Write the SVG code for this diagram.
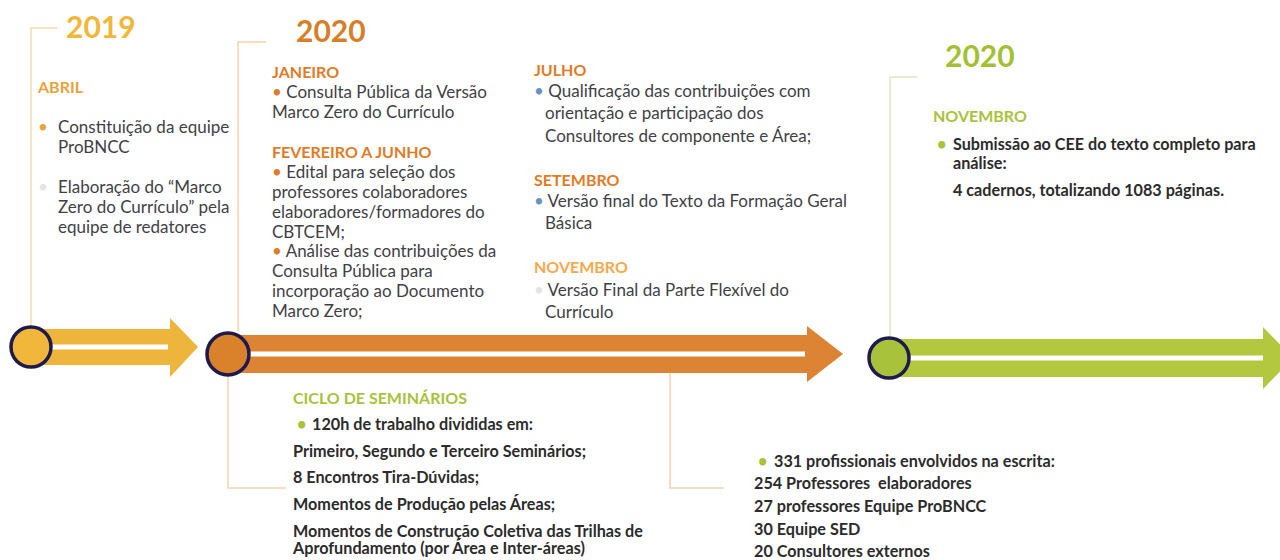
<svg xmlns="http://www.w3.org/2000/svg" width="1280" height="560" viewBox="0 0 1280 560">
<style>
text{font-family:Lato,"Open Sans","Liberation Sans",sans-serif}
.yr{font-size:30px;font-weight:700}
.mo{font-size:16px;font-weight:700}
.tx{font-size:17px;fill:#3f3f46}
.bd{font-size:16.2px;font-weight:700;fill:#2b2b2b}
.b-or{fill:#e8a33a}
.b-br{fill:#e07b28}
.b-bl{fill:#6a93c0}
.b-lt{fill:#e4e4e4}
.b-gr{fill:#a9c23b}
.ln{fill:none;stroke-width:1.5}
.node{stroke:#1e1a4d;stroke-width:3.5}
.wl{stroke:#ffffff;stroke-width:5}
</style>
<rect width="1280" height="560" fill="#ffffff"/>
<g id="connectors">
<path class="ln" stroke="#f5dcae" d="M58,28 H31 V326"/>
<path class="ln" stroke="#f2d4ae" d="M266,42 H238 V331"/>
<path class="ln" stroke="#f2d4ae" d="M228,376 V488 H286"/>
<path class="ln" stroke="#f2d4ae" d="M670,373 V488 H724"/>
<path class="ln" stroke="#dfe7c2" d="M917,77 H890 V336"/>
</g>
<g id="arrow-2019">
<path fill="#eeb53c" d="M31,329 H170 V318 L198,347 L170,377 V365 H31 Z"/>
<line class="wl" x1="31" y1="347" x2="168" y2="347"/>
</g>
<g id="arrow-2020a">
<path fill="#dc8433" d="M227,335 H807 V326 L843,354 L807,382 V373 H227 Z"/>
<line class="wl" x1="227" y1="354" x2="805" y2="354"/>
</g>
<g id="arrow-2020b">
<path fill="#b3c83e" d="M889,339 H1263 V327 L1293,358 L1263,389 V377 H889 Z"/>
<line class="wl" x1="889" y1="358" x2="1263" y2="358"/>
</g>
<g id="node-2019">
<circle class="node" cx="31" cy="347" r="20" fill="#f0b73a"/>
</g>
<g id="node-2020a">
<circle class="node" cx="228" cy="354" r="21" fill="#d9822b"/>
</g>
<g id="node-2020b">
<circle class="node" cx="889" cy="358" r="20" fill="#a9c23b"/>
</g>
<g id="block-2019">
<text class="yr" x="66" y="38" fill="#f0b73a">2019</text>
<text class="mo" x="38" y="93" fill="#e9a23b">ABRIL</text>
<text class="tx b-or" x="38" y="133">•</text>
<text class="tx" x="58" y="133">Constituição da equipe</text>
<text class="tx" x="58" y="153">ProBNCC</text>
<text class="tx b-lt" x="38" y="193">•</text>
<text class="tx" x="58" y="193">Elaboração do “Marco</text>
<text class="tx" x="58" y="213">Zero do Currículo” pela</text>
<text class="tx" x="58" y="233">equipe de redatores</text>
</g>
<g id="block-2020a">
<text class="yr" x="296" y="42" fill="#d47f2a">2020</text>
<text class="mo" x="272" y="78" fill="#e07b28">JANEIRO</text>
<text class="tx" x="272" y="98"><tspan class="b-br">•</tspan> Consulta Pública da Versão</text>
<text class="tx" x="272" y="118">Marco Zero do Currículo</text>
<text class="mo" x="272" y="158" fill="#e07b28">FEVEREIRO A JUNHO</text>
<text class="tx" x="272" y="178"><tspan class="b-br">•</tspan> Edital para seleção dos</text>
<text class="tx" x="272" y="198">professores colaboradores</text>
<text class="tx" x="272" y="218">elaboradores/formadores do</text>
<text class="tx" x="272" y="238">CBTCEM;</text>
<text class="tx" x="272" y="257"><tspan class="b-br">•</tspan> Análise das contribuições da</text>
<text class="tx" x="272" y="277">Consulta Pública para</text>
<text class="tx" x="272" y="297">incorporação ao Documento</text>
<text class="tx" x="272" y="317">Marco Zero;</text>
</g>
<g id="block-2020-jul">
<text class="mo" x="534" y="76" fill="#e07b28">JULHO</text>
<text class="tx" x="534" y="97"><tspan class="b-bl">•</tspan> Qualificação das contribuições com</text>
<text class="tx" x="545" y="119">orientação e participação dos</text>
<text class="tx" x="545" y="142">Consultores de componente e Área;</text>
<text class="mo" x="534" y="186" fill="#e07b28">SETEMBRO</text>
<text class="tx" x="534" y="207"><tspan class="b-bl">•</tspan> Versão final do Texto da Formação Geral</text>
<text class="tx" x="545" y="229">Básica</text>
<text class="mo" x="534" y="273" fill="#f3a94e">NOVEMBRO</text>
<text class="tx" x="534" y="296"><tspan class="b-lt">•</tspan> Versão Final da Parte Flexível do</text>
<text class="tx" x="545" y="318">Currículo</text>
</g>
<g id="block-2020b">
<text class="yr" x="945" y="67" fill="#a3bf35">2020</text>
<text class="mo" x="933" y="122" fill="#a9c23b">NOVEMBRO</text>
<text class="bd b-gr" x="937" y="150">•</text>
<text class="bd" x="953" y="150">Submissão ao CEE do texto completo para</text>
<text class="bd" x="953" y="169">análise:</text>
<text class="bd" x="953" y="196">4 cadernos, totalizando 1083 páginas.</text>
</g>
<g id="block-seminarios">
<text class="mo" x="293" y="404" fill="#a9c23b">CICLO DE SEMINÁRIOS</text>
<text class="bd b-gr" x="297" y="430">•</text>
<text class="bd" x="312" y="430">120h de trabalho divididas em:</text>
<text class="bd" x="293" y="457">Primeiro, Segundo e Terceiro Seminários;</text>
<text class="bd" x="293" y="483">8 Encontros Tira-Dúvidas;</text>
<text class="bd" x="293" y="510">Momentos de Produção pelas Áreas;</text>
<text class="bd" x="293" y="537">Momentos de Construção Coletiva das Trilhas de</text>
<text class="bd" x="293" y="554">Aprofundamento (por Área e Inter-áreas)</text>
</g>
<g id="block-profissionais">
<text class="bd b-gr" x="758" y="467">•</text>
<text class="bd" x="774" y="467">331 profissionais envolvidos na escrita:</text>
<text class="bd" x="754" y="489" xml:space="preserve">254 Professores  elaboradores</text>
<text class="bd" x="754" y="512">27 professores Equipe ProBNCC</text>
<text class="bd" x="754" y="535">30 Equipe SED</text>
<text class="bd" x="754" y="557">20 Consultores externos</text>
</g>
</svg>
